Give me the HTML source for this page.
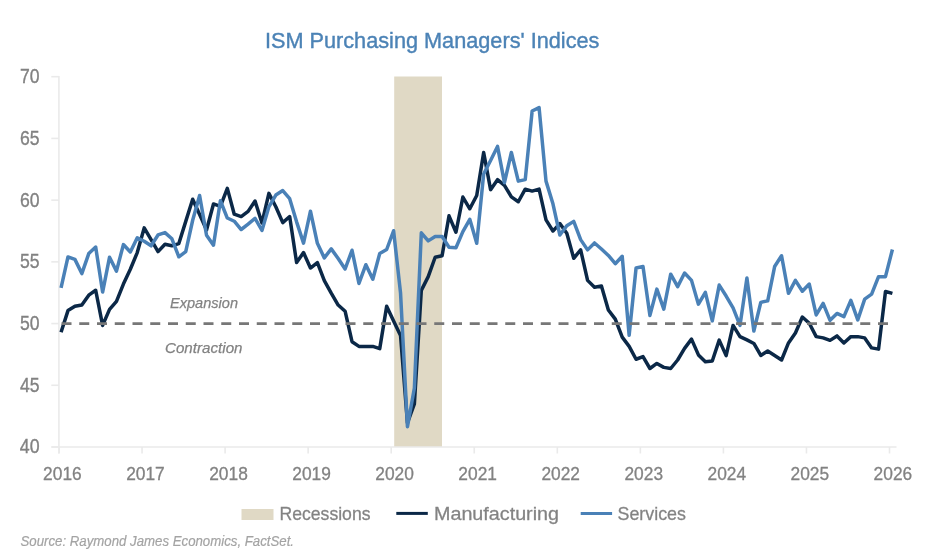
<!DOCTYPE html>
<html><head><meta charset="utf-8"><style>
html,body{margin:0;padding:0;background:#fff;width:936px;height:560px;overflow:hidden}
svg{display:block;will-change:transform}
text{font-family:"Liberation Sans", sans-serif}
</style></head><body>
<svg width="936" height="560" viewBox="0 0 936 560">
<rect x="394.2" y="76.5" width="47.8" height="370.5" fill="#E0D9C5"/>
<path d="M58.9,76 V453.5 M51.5,447 H896.5" stroke="#EAEAEA" stroke-width="1.6" fill="none"/>
<path d="M51.3,447.00 H59" stroke="#EAEAEA" stroke-width="1.6"/>
<path d="M51.3,385.28 H59" stroke="#EAEAEA" stroke-width="1.6"/>
<path d="M51.3,323.57 H59" stroke="#EAEAEA" stroke-width="1.6"/>
<path d="M51.3,261.85 H59" stroke="#EAEAEA" stroke-width="1.6"/>
<path d="M51.3,200.13 H59" stroke="#EAEAEA" stroke-width="1.6"/>
<path d="M51.3,138.42 H59" stroke="#EAEAEA" stroke-width="1.6"/>
<path d="M51.3,76.70 H59" stroke="#EAEAEA" stroke-width="1.6"/>
<path d="M59.00,447 V453.5" stroke="#EAEAEA" stroke-width="1.6"/>
<path d="M142.05,447 V453.5" stroke="#EAEAEA" stroke-width="1.6"/>
<path d="M225.10,447 V453.5" stroke="#EAEAEA" stroke-width="1.6"/>
<path d="M308.15,447 V453.5" stroke="#EAEAEA" stroke-width="1.6"/>
<path d="M391.20,447 V453.5" stroke="#EAEAEA" stroke-width="1.6"/>
<path d="M474.25,447 V453.5" stroke="#EAEAEA" stroke-width="1.6"/>
<path d="M557.30,447 V453.5" stroke="#EAEAEA" stroke-width="1.6"/>
<path d="M640.35,447 V453.5" stroke="#EAEAEA" stroke-width="1.6"/>
<path d="M723.40,447 V453.5" stroke="#EAEAEA" stroke-width="1.6"/>
<path d="M806.45,447 V453.5" stroke="#EAEAEA" stroke-width="1.6"/>
<path d="M889.50,447 V453.5" stroke="#EAEAEA" stroke-width="1.6"/>
<text x="39.6" y="453.40" text-anchor="end" font-size="19.5" fill="#828282" stroke="#828282" stroke-width="0.35" textLength="19.8" lengthAdjust="spacingAndGlyphs">40</text>
<text x="39.6" y="391.68" text-anchor="end" font-size="19.5" fill="#828282" stroke="#828282" stroke-width="0.35" textLength="19.6" lengthAdjust="spacingAndGlyphs">45</text>
<text x="39.6" y="329.97" text-anchor="end" font-size="19.5" fill="#828282" stroke="#828282" stroke-width="0.35" textLength="19.6" lengthAdjust="spacingAndGlyphs">50</text>
<text x="39.6" y="268.25" text-anchor="end" font-size="19.5" fill="#828282" stroke="#828282" stroke-width="0.35" textLength="19.6" lengthAdjust="spacingAndGlyphs">55</text>
<text x="39.6" y="206.53" text-anchor="end" font-size="19.5" fill="#828282" stroke="#828282" stroke-width="0.35" textLength="19.6" lengthAdjust="spacingAndGlyphs">60</text>
<text x="39.6" y="144.82" text-anchor="end" font-size="19.5" fill="#828282" stroke="#828282" stroke-width="0.35" textLength="19.6" lengthAdjust="spacingAndGlyphs">65</text>
<text x="39.6" y="83.10" text-anchor="end" font-size="19.5" fill="#828282" stroke="#828282" stroke-width="0.35" textLength="19.6" lengthAdjust="spacingAndGlyphs">70</text>
<text x="62.40" y="479.6" text-anchor="middle" font-size="18.4" fill="#828282" stroke="#828282" stroke-width="0.3" textLength="38.6" lengthAdjust="spacingAndGlyphs">2016</text>
<text x="145.45" y="479.6" text-anchor="middle" font-size="18.4" fill="#828282" stroke="#828282" stroke-width="0.3" textLength="38.6" lengthAdjust="spacingAndGlyphs">2017</text>
<text x="228.50" y="479.6" text-anchor="middle" font-size="18.4" fill="#828282" stroke="#828282" stroke-width="0.3" textLength="38.6" lengthAdjust="spacingAndGlyphs">2018</text>
<text x="311.55" y="479.6" text-anchor="middle" font-size="18.4" fill="#828282" stroke="#828282" stroke-width="0.3" textLength="38.6" lengthAdjust="spacingAndGlyphs">2019</text>
<text x="394.60" y="479.6" text-anchor="middle" font-size="18.4" fill="#828282" stroke="#828282" stroke-width="0.3" textLength="38.6" lengthAdjust="spacingAndGlyphs">2020</text>
<text x="477.65" y="479.6" text-anchor="middle" font-size="18.4" fill="#828282" stroke="#828282" stroke-width="0.3" textLength="38.6" lengthAdjust="spacingAndGlyphs">2021</text>
<text x="560.70" y="479.6" text-anchor="middle" font-size="18.4" fill="#828282" stroke="#828282" stroke-width="0.3" textLength="38.6" lengthAdjust="spacingAndGlyphs">2022</text>
<text x="643.75" y="479.6" text-anchor="middle" font-size="18.4" fill="#828282" stroke="#828282" stroke-width="0.3" textLength="38.6" lengthAdjust="spacingAndGlyphs">2023</text>
<text x="726.80" y="479.6" text-anchor="middle" font-size="18.4" fill="#828282" stroke="#828282" stroke-width="0.3" textLength="38.6" lengthAdjust="spacingAndGlyphs">2024</text>
<text x="809.85" y="479.6" text-anchor="middle" font-size="18.4" fill="#828282" stroke="#828282" stroke-width="0.3" textLength="38.6" lengthAdjust="spacingAndGlyphs">2025</text>
<text x="892.90" y="479.6" text-anchor="middle" font-size="18.4" fill="#828282" stroke="#828282" stroke-width="0.3" textLength="38.6" lengthAdjust="spacingAndGlyphs">2026</text>
<path d="M61.05,332.21 L67.98,310.61 L74.91,306.29 L81.83,305.05 L88.76,295.18 L95.69,290.24 L102.62,325.42 L109.55,309.37 L116.47,301.35 L123.40,284.07 L130.33,269.26 L137.26,252.59 L144.19,227.91 L151.11,239.63 L158.04,251.61 L164.97,244.20 L171.90,245.80 L178.83,243.58 L185.75,221.36 L192.68,199.27 L199.61,214.45 L206.54,230.00 L213.47,203.96 L220.39,206.31 L227.32,188.41 L234.25,214.20 L241.18,216.55 L248.11,211.37 L255.03,201.00 L261.96,222.97 L268.89,193.34 L275.82,206.80 L282.75,222.60 L289.67,216.55 L296.60,262.59 L303.53,252.59 L310.46,268.02 L317.39,262.59 L324.31,280.61 L331.24,293.20 L338.17,305.05 L345.10,311.22 L352.03,341.71 L358.95,346.40 L365.88,346.40 L372.81,346.40 L379.74,348.62 L386.67,306.29 L393.59,321.10 L400.52,335.42 L407.45,422.93 L414.38,403.80 L421.31,290.36 L428.23,276.66 L435.16,257.28 L442.09,255.80 L449.02,215.81 L455.95,232.23 L462.87,197.05 L469.80,208.77 L476.73,195.44 L483.66,152.49 L490.59,189.64 L497.51,179.64 L504.44,185.32 L511.37,196.92 L518.30,201.74 L525.23,189.15 L532.15,191.12 L539.08,189.15 L546.01,219.88 L552.94,230.99 L559.87,223.59 L566.79,233.21 L573.72,258.27 L580.65,249.88 L587.58,280.37 L594.51,287.28 L601.43,285.92 L608.36,309.99 L615.29,319.12 L622.22,337.14 L629.15,346.40 L636.07,359.24 L643.00,356.65 L649.93,368.50 L656.86,363.44 L663.79,367.39 L670.71,368.50 L677.64,359.98 L684.57,348.38 L691.50,339.12 L698.43,354.92 L705.35,361.71 L712.28,360.97 L719.21,340.11 L726.14,355.66 L733.07,325.42 L739.99,336.65 L746.92,339.86 L753.85,343.44 L760.78,355.41 L767.71,350.97 L774.63,355.41 L781.56,359.98 L788.49,342.95 L795.42,332.95 L802.35,317.02 L809.27,323.20 L816.20,336.65 L823.13,337.88 L830.06,340.35 L836.99,335.91 L843.91,342.95 L850.84,336.65 L857.77,336.65 L864.70,337.88 L871.63,347.88 L878.55,349.12 L885.48,291.47 L892.41,293.33" stroke="#0B2847" stroke-width="3.5" fill="none" stroke-linejoin="round" stroke-linecap="butt"/>
<path d="M61.05,287.77 L67.98,256.91 L74.91,259.38 L81.83,273.58 L88.76,253.58 L95.69,247.04 L102.62,292.09 L109.55,257.16 L116.47,271.11 L123.40,244.57 L130.33,251.98 L137.26,237.78 L144.19,241.24 L151.11,245.80 L158.04,234.94 L164.97,232.60 L171.90,238.77 L178.83,256.79 L185.75,251.61 L192.68,220.25 L199.61,195.44 L206.54,235.31 L213.47,245.19 L220.39,200.75 L227.32,218.03 L234.25,221.24 L241.18,229.51 L248.11,224.20 L255.03,218.40 L261.96,230.50 L268.89,206.80 L275.82,195.07 L282.75,190.51 L289.67,198.65 L296.60,221.86 L303.53,243.09 L310.46,211.24 L317.39,243.33 L324.31,257.90 L331.24,248.89 L338.17,258.52 L345.10,269.01 L352.03,250.25 L358.95,283.45 L365.88,264.69 L372.81,279.25 L379.74,253.46 L386.67,249.51 L393.59,230.74 L400.52,292.71 L407.45,426.76 L414.38,388.00 L421.31,232.84 L428.23,240.87 L435.16,236.55 L442.09,236.55 L449.02,247.28 L455.95,247.78 L462.87,231.61 L469.80,219.27 L476.73,243.33 L483.66,173.97 L490.59,160.51 L497.51,146.44 L504.44,182.61 L511.37,152.49 L518.30,181.12 L525.23,179.64 L532.15,111.01 L539.08,107.56 L546.01,181.12 L552.94,203.84 L559.87,235.06 L566.79,225.81 L573.72,221.36 L580.65,239.63 L587.58,249.88 L594.51,242.96 L601.43,249.01 L608.36,255.43 L615.29,263.70 L622.22,256.30 L629.15,335.29 L636.07,268.02 L643.00,266.54 L649.93,315.42 L656.86,289.13 L663.79,309.12 L670.71,274.19 L677.64,286.66 L684.57,272.96 L691.50,280.37 L698.43,304.19 L705.35,292.34 L712.28,320.85 L719.21,285.06 L726.14,296.04 L733.07,307.89 L739.99,325.42 L746.92,277.90 L753.85,330.97 L760.78,302.34 L767.71,300.85 L774.63,266.54 L781.56,255.80 L788.49,293.33 L795.42,280.37 L802.35,291.23 L809.27,284.07 L816.20,314.93 L823.13,303.45 L830.06,320.36 L836.99,313.45 L843.91,316.65 L850.84,300.36 L857.77,319.86 L864.70,299.13 L871.63,294.19 L878.55,276.66 L885.48,276.66 L892.41,249.51" stroke="#4A81B7" stroke-width="3.5" fill="none" stroke-linejoin="round" stroke-linecap="butt"/>
<path d="M61.5,323.6 H891.4" stroke="#777777" stroke-width="2.6" stroke-dasharray="10 7.75" fill="none"/>
<text x="264.9" y="48.4" font-size="22.6" fill="#4C83B6" stroke="#4C83B6" stroke-width="0.4" textLength="334.5" lengthAdjust="spacingAndGlyphs">ISM Purchasing Managers' Indices</text>
<text x="170" y="307.8" font-size="15.2" font-style="italic" fill="#828282" stroke="#858585" stroke-width="0.25" textLength="68" lengthAdjust="spacingAndGlyphs">Expansion</text>
<text x="165" y="352.7" font-size="15.2" font-style="italic" fill="#828282" stroke="#858585" stroke-width="0.25" textLength="77.5" lengthAdjust="spacingAndGlyphs">Contraction</text>
<rect x="241.5" y="509" width="32" height="11" fill="#E0D9C5"/>
<text x="279.5" y="520" font-size="18.6" fill="#828282" stroke="#8a8a8a" stroke-width="0.3" textLength="91" lengthAdjust="spacingAndGlyphs">Recessions</text>
<path d="M396.3,513.4 H427.8" stroke="#0B2847" stroke-width="3"/>
<text x="434" y="520" font-size="18.6" fill="#828282" stroke="#8a8a8a" stroke-width="0.3" textLength="125" lengthAdjust="spacingAndGlyphs">Manufacturing</text>
<path d="M580.7,513.5 H612.1" stroke="#4A81B7" stroke-width="3"/>
<text x="617.5" y="520" font-size="18.6" fill="#828282" stroke="#8a8a8a" stroke-width="0.3" textLength="68.5" lengthAdjust="spacingAndGlyphs">Services</text>
<text x="20.5" y="545.9" font-size="14" font-style="italic" fill="#A3A3A3" stroke="#a6a6a6" stroke-width="0.2" textLength="273.5" lengthAdjust="spacingAndGlyphs">Source: Raymond James Economics, FactSet.</text>
</svg>
</body></html>
